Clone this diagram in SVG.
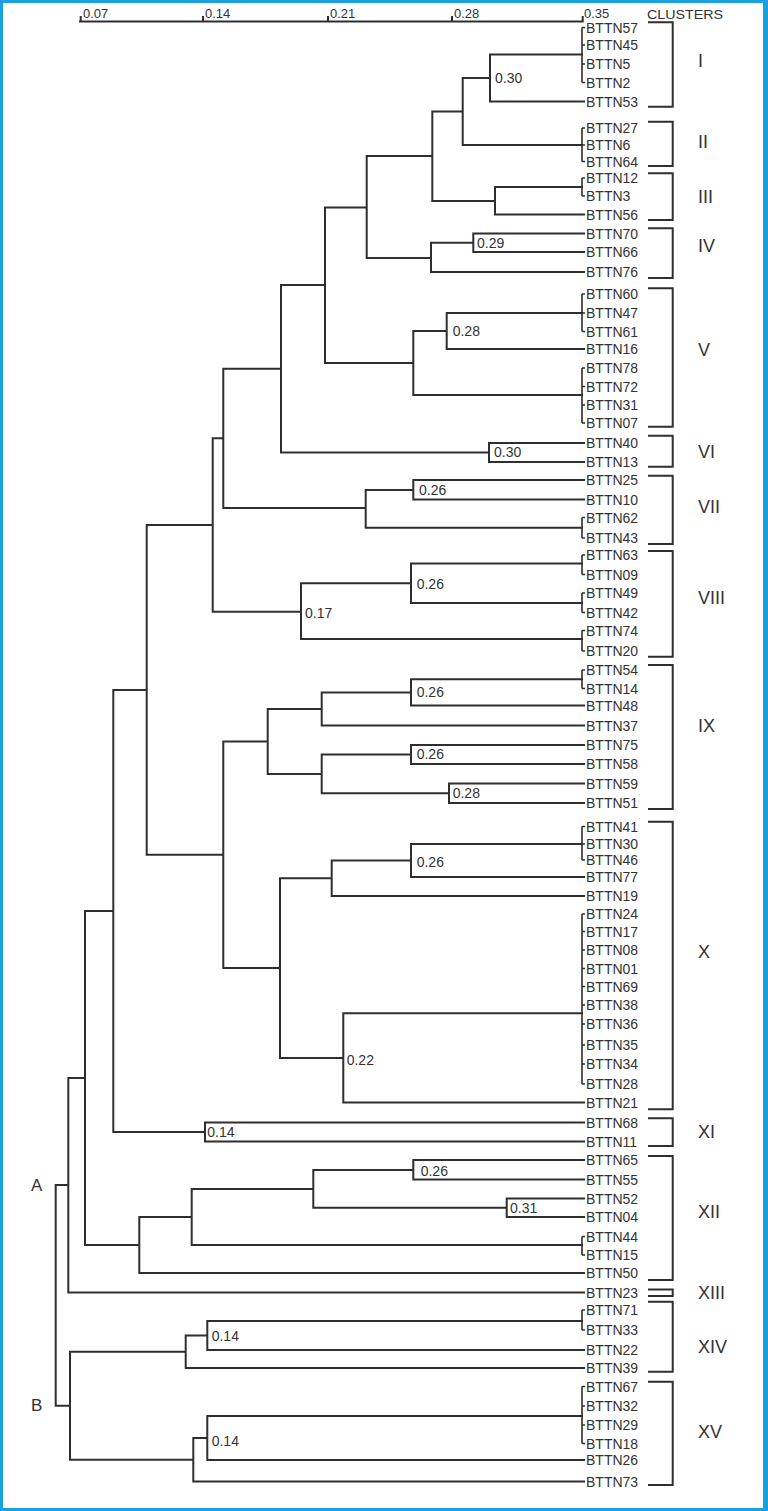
<svg xmlns="http://www.w3.org/2000/svg" width="768" height="1511" viewBox="0 0 768 1511">
<style>
.ln{fill:none;stroke:#2e2e2e;stroke-width:2;stroke-linecap:square}
.st{fill:none;stroke:#2e2e2e;stroke-width:1.6}
.lf{font-family:"Liberation Sans",Arial,sans-serif;font-size:14px;fill:#333}
.vl{font-family:"Liberation Sans",Arial,sans-serif;font-size:14px;fill:#333}
.ax{font-family:"Liberation Sans",Arial,sans-serif;font-size:13px;fill:#333}
.cl{font-family:"Liberation Sans",Arial,sans-serif;font-size:18px;fill:#333}
.ab{font-family:"Liberation Sans",Arial,sans-serif;font-size:17px;fill:#333}
</style>
<rect x="0" y="0" width="768" height="1511" fill="#1a9fdf"/>
<rect x="3" y="3" width="760" height="1505" fill="#ffffff"/>

<g id="axis">
<path class="ln" d="M80 21.5 H582.7 M80.7 17 V21.5 M203 17 V21.5 M328 17 V21.5 M452 17 V21.5 M582.7 17 V21.5"/>
<text class="ax" x="83" y="18">0.07</text>
<text class="ax" x="205" y="18">0.14</text>
<text class="ax" x="330" y="18">0.21</text>
<text class="ax" x="454" y="18">0.28</text>
<text class="ax" x="584" y="18">0.35</text>
<text class="ax" x="647" y="18.5" textLength="76" lengthAdjust="spacingAndGlyphs">CLUSTERS</text>
</g>

<g id="connectors">
<path class="ln" d="M582 54.5 H490 V101.5 H584
M490 78 H462.7 V145 H582
M582 187 H495 V214.5 H584
M462.7 111.5 H432.3 V201 H495
M584 233.5 H473.3 V252 H584
M473.3 242.7 H431 V272 H584
M432.3 156 H366.7 V258 H431
M582 313 H446.7 V349 H584
M446.7 331 H413.3 V395 H582
M366.7 207.5 H325 V363 H413.3
M584 443 H489 V462 H584
M325 285 H281 V452.5 H489
M584 480 H413.3 V499.5 H584
M413.3 490 H365.7 V527.7 H582
M281 368.7 H223.3 V508 H365.7
M582 563.5 H411 V603 H582
M411 583.3 H301 V639 H582
M223.3 438.3 H212.7 V611.7 H301
M582 679.3 H411 V705.5 H584
M411 692.4 H321.7 V725.5 H584
M584 745 H411 V764 H584
M584 783.5 H449 V803 H584
M411 754.5 H321.7 V793.3 H449
M321.7 709 H267.7 V774 H321.7
M582 844 H411 V877 H584
M411 860.5 H331.7 V896 H584
M582 1013.3 H343.3 V1102.5 H584
M331.7 878.3 H280 V1058 H343.3
M267.7 741.5 H223.3 V968 H280
M212.7 525 H146.7 V854.8 H223.3
M584 1122.5 H205 V1141.5 H584
M146.7 690 H113.3 V1132 H205
M584 1160 H413.3 V1179.5 H584
M584 1198.5 H506.7 V1217 H584
M413.3 1170 H313.3 V1207.8 H506.7
M313.3 1189 H191.7 V1245 H582
M191.7 1217 H139.3 V1273 H584
M113.3 911 H85 V1245 H139.3
M85 1078 H68.3 V1292.5 H584
M582 1321 H207.3 V1350 H584
M207.3 1335.5 H185.7 V1368 H584
M582 1416 H207.3 V1460 H584
M207.3 1438 H193.3 V1481.5 H584
M185.7 1351.7 H70 V1459.7 H193.3
M68.3 1185 H55.7 V1405.7 H70"/>
<path class="st" d="M582 27.5 V82.5 M582 128 V161.5 M582 178 V196 M582 294 V331.5 M582 368 V423 M582 517.5 V538 M582 555 V574.5 M582 593 V612.5 M582 630.5 V651 M582 670 V688.5 M582 826.5 V860 M582 914 V1084 M582 1236.5 V1255 M582 1310 V1330 M582 1386.5 V1443.5
M582 27.5 H585 M582 45 H585 M582 64 H585 M582 82.5 H585
M582 128 H585 M582 145 H585 M582 161.5 H585
M582 178 H585 M582 196 H585
M582 294 H585 M582 313 H585 M582 331.5 H585
M582 368 H585 M582 386.5 H585 M582 405 H585 M582 423 H585
M582 517.5 H585 M582 538 H585
M582 555 H585 M582 574.5 H585 M582 593 H585 M582 612.5 H585 M582 630.5 H585 M582 651 H585
M582 670 H585 M582 688.5 H585
M582 826.5 H585 M582 844 H585 M582 860 H585
M582 914 H585 M582 931.5 H585 M582 950 H585 M582 968.5 H585 M582 986.5 H585 M582 1005 H585 M582 1024 H585 M582 1045 H585 M582 1064 H585 M582 1084 H585
M582 1236.5 H585 M582 1255 H585
M582 1310 H585 M582 1330 H585
M582 1386.5 H585 M582 1406 H585 M582 1425 H585 M582 1443.5 H585"/>
<path class="ln" d="M649 22.3 H672.7 V106.7 H649
M649 121.7 H672.7 V166 H649
M649 173.3 H672.7 V220 H649
M649 228.3 H672.7 V278 H649
M649 288.3 H672.7 V426.7 H649
M649 435.7 H672.7 V466.7 H649
M649 475.7 H672.7 V544 H649
M649 551 H672.7 V656.7 H649
M649 665 H672.7 V809 H649
M649 821.7 H672.7 V1109.3 H649
M649 1118.3 H672.7 V1146 H649
M649 1156 H672.7 V1280 H649
M649 1289.5 H672.7 V1296 H649
M649 1301.7 H672.7 V1371.7 H649
M649 1381.7 H672.7 V1485 H649"/>
</g>

<g id="values">
<text class="vl" x="495" y="82.7">0.30</text>
<text class="vl" x="477" y="247.7">0.29</text>
<text class="vl" x="452.7" y="336">0.28</text>
<text class="vl" x="494" y="456.7">0.30</text>
<text class="vl" x="419" y="495">0.26</text>
<text class="vl" x="416.7" y="589">0.26</text>
<text class="vl" x="305" y="618.3">0.17</text>
<text class="vl" x="416.7" y="697.3">0.26</text>
<text class="vl" x="416.7" y="759.3">0.26</text>
<text class="vl" x="452.7" y="797.7">0.28</text>
<text class="vl" x="416.7" y="866.7">0.26</text>
<text class="vl" x="346.7" y="1065">0.22</text>
<text class="vl" x="207.3" y="1136.7">0.14</text>
<text class="vl" x="420.7" y="1175.7">0.26</text>
<text class="vl" x="510" y="1213.3">0.31</text>
<text class="vl" x="211.7" y="1340.7">0.14</text>
<text class="vl" x="211.7" y="1445.7">0.14</text>
</g>

<g id="leaves" class="lf">
<g id="BTTN57"><text class="lf" x="586" y="33">BTTN57</text></g>
<g id="BTTN45"><text class="lf" x="586" y="50">BTTN45</text></g>
<g id="BTTN5"><text class="lf" x="586" y="69">BTTN5</text></g>
<g id="BTTN2"><text class="lf" x="586" y="87.5">BTTN2</text></g>
<g id="BTTN53"><text class="lf" x="586" y="106.5">BTTN53</text></g>
<g id="BTTN27"><text class="lf" x="586" y="133">BTTN27</text></g>
<g id="BTTN6"><text class="lf" x="586" y="150">BTTN6</text></g>
<g id="BTTN64"><text class="lf" x="586" y="166.5">BTTN64</text></g>
<g id="BTTN12"><text class="lf" x="586" y="183">BTTN12</text></g>
<g id="BTTN3"><text class="lf" x="586" y="201">BTTN3</text></g>
<g id="BTTN56"><text class="lf" x="586" y="219.5">BTTN56</text></g>
<g id="BTTN70"><text class="lf" x="586" y="238.5">BTTN70</text></g>
<g id="BTTN66"><text class="lf" x="586" y="257">BTTN66</text></g>
<g id="BTTN76"><text class="lf" x="586" y="277">BTTN76</text></g>
<g id="BTTN60"><text class="lf" x="586" y="299">BTTN60</text></g>
<g id="BTTN47"><text class="lf" x="586" y="318">BTTN47</text></g>
<g id="BTTN61"><text class="lf" x="586" y="336.5">BTTN61</text></g>
<g id="BTTN16"><text class="lf" x="586" y="354">BTTN16</text></g>
<g id="BTTN78"><text class="lf" x="586" y="373">BTTN78</text></g>
<g id="BTTN72"><text class="lf" x="586" y="391.5">BTTN72</text></g>
<g id="BTTN31"><text class="lf" x="586" y="410">BTTN31</text></g>
<g id="BTTN07"><text class="lf" x="586" y="428">BTTN07</text></g>
<g id="BTTN40"><text class="lf" x="586" y="448">BTTN40</text></g>
<g id="BTTN13"><text class="lf" x="586" y="467">BTTN13</text></g>
<g id="BTTN25"><text class="lf" x="586" y="485">BTTN25</text></g>
<g id="BTTN10"><text class="lf" x="586" y="504.5">BTTN10</text></g>
<g id="BTTN62"><text class="lf" x="586" y="522.5">BTTN62</text></g>
<g id="BTTN43"><text class="lf" x="586" y="543">BTTN43</text></g>
<g id="BTTN63"><text class="lf" x="586" y="560">BTTN63</text></g>
<g id="BTTN09"><text class="lf" x="586" y="579.5">BTTN09</text></g>
<g id="BTTN49"><text class="lf" x="586" y="598">BTTN49</text></g>
<g id="BTTN42"><text class="lf" x="586" y="617.5">BTTN42</text></g>
<g id="BTTN74"><text class="lf" x="586" y="635.5">BTTN74</text></g>
<g id="BTTN20"><text class="lf" x="586" y="656">BTTN20</text></g>
<g id="BTTN54"><text class="lf" x="586" y="675">BTTN54</text></g>
<g id="BTTN14"><text class="lf" x="586" y="693.5">BTTN14</text></g>
<g id="BTTN48"><text class="lf" x="586" y="710.5">BTTN48</text></g>
<g id="BTTN37"><text class="lf" x="586" y="730.5">BTTN37</text></g>
<g id="BTTN75"><text class="lf" x="586" y="750">BTTN75</text></g>
<g id="BTTN58"><text class="lf" x="586" y="769">BTTN58</text></g>
<g id="BTTN59"><text class="lf" x="586" y="788.5">BTTN59</text></g>
<g id="BTTN51"><text class="lf" x="586" y="808">BTTN51</text></g>
<g id="BTTN41"><text class="lf" x="586" y="831.5">BTTN41</text></g>
<g id="BTTN30"><text class="lf" x="586" y="849">BTTN30</text></g>
<g id="BTTN46"><text class="lf" x="586" y="865">BTTN46</text></g>
<g id="BTTN77"><text class="lf" x="586" y="882">BTTN77</text></g>
<g id="BTTN19"><text class="lf" x="586" y="901">BTTN19</text></g>
<g id="BTTN24"><text class="lf" x="586" y="919">BTTN24</text></g>
<g id="BTTN17"><text class="lf" x="586" y="936.5">BTTN17</text></g>
<g id="BTTN08"><text class="lf" x="586" y="955">BTTN08</text></g>
<g id="BTTN01"><text class="lf" x="586" y="973.5">BTTN01</text></g>
<g id="BTTN69"><text class="lf" x="586" y="991.5">BTTN69</text></g>
<g id="BTTN38"><text class="lf" x="586" y="1010">BTTN38</text></g>
<g id="BTTN36"><text class="lf" x="586" y="1029">BTTN36</text></g>
<g id="BTTN35"><text class="lf" x="586" y="1050">BTTN35</text></g>
<g id="BTTN34"><text class="lf" x="586" y="1069">BTTN34</text></g>
<g id="BTTN28"><text class="lf" x="586" y="1089">BTTN28</text></g>
<g id="BTTN21"><text class="lf" x="586" y="1107.5">BTTN21</text></g>
<g id="BTTN68"><text class="lf" x="586" y="1127.5">BTTN68</text></g>
<g id="BTTN11"><text class="lf" x="586" y="1146.5">BTTN11</text></g>
<g id="BTTN65"><text class="lf" x="586" y="1165">BTTN65</text></g>
<g id="BTTN55"><text class="lf" x="586" y="1184.5">BTTN55</text></g>
<g id="BTTN52"><text class="lf" x="586" y="1203.5">BTTN52</text></g>
<g id="BTTN04"><text class="lf" x="586" y="1222">BTTN04</text></g>
<g id="BTTN44"><text class="lf" x="586" y="1241.5">BTTN44</text></g>
<g id="BTTN15"><text class="lf" x="586" y="1260">BTTN15</text></g>
<g id="BTTN50"><text class="lf" x="586" y="1278">BTTN50</text></g>
<g id="BTTN23"><text class="lf" x="586" y="1297.5">BTTN23</text></g>
<g id="BTTN71"><text class="lf" x="586" y="1315">BTTN71</text></g>
<g id="BTTN33"><text class="lf" x="586" y="1335">BTTN33</text></g>
<g id="BTTN22"><text class="lf" x="586" y="1355">BTTN22</text></g>
<g id="BTTN39"><text class="lf" x="586" y="1373">BTTN39</text></g>
<g id="BTTN67"><text class="lf" x="586" y="1391.5">BTTN67</text></g>
<g id="BTTN32"><text class="lf" x="586" y="1411">BTTN32</text></g>
<g id="BTTN29"><text class="lf" x="586" y="1430">BTTN29</text></g>
<g id="BTTN18"><text class="lf" x="586" y="1448.5">BTTN18</text></g>
<g id="BTTN26"><text class="lf" x="586" y="1465">BTTN26</text></g>
<g id="BTTN73"><text class="lf" x="586" y="1486.5">BTTN73</text></g>
</g>

<g id="clusters">
<g id="cl-I"><text class="cl" x="698" y="66.5">I</text></g>
<g id="cl-II"><text class="cl" x="698" y="148.2">II</text></g>
<g id="cl-III"><text class="cl" x="698" y="202.5">III</text></g>
<g id="cl-IV"><text class="cl" x="698" y="251.5">IV</text></g>
<g id="cl-V"><text class="cl" x="698" y="355.5">V</text></g>
<g id="cl-VI"><text class="cl" x="698" y="458.2">VI</text></g>
<g id="cl-VII"><text class="cl" x="698" y="513.2">VII</text></g>
<g id="cl-VIII"><text class="cl" x="698" y="603.8">VIII</text></g>
<g id="cl-IX"><text class="cl" x="698" y="731.5">IX</text></g>
<g id="cl-X"><text class="cl" x="698" y="958.2">X</text></g>
<g id="cl-XI"><text class="cl" x="698" y="1138.2">XI</text></g>
<g id="cl-XII"><text class="cl" x="698" y="1218.2">XII</text></g>
<g id="cl-XIII"><text class="cl" x="698" y="1299.2">XIII</text></g>
<g id="cl-XIV"><text class="cl" x="698" y="1352.5">XIV</text></g>
<g id="cl-XV"><text class="cl" x="698" y="1438.2">XV</text></g>
</g>

<g id="groups">
<g id="grp-A"><text class="ab" x="31" y="1191">A</text></g>
<g id="grp-B"><text class="ab" x="31" y="1410.5">B</text></g>
</g>
</svg>
